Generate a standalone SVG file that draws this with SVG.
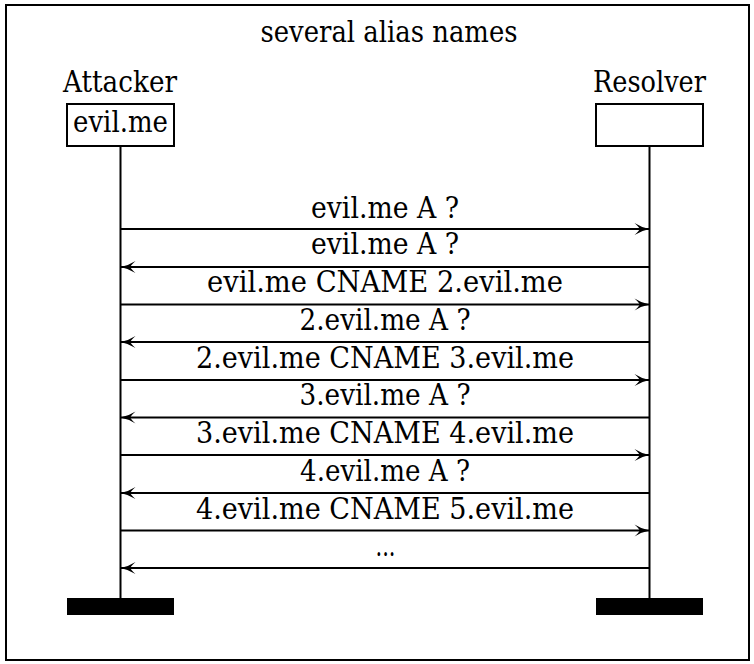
<svg xmlns="http://www.w3.org/2000/svg" width="754" height="664" viewBox="0 0 754 664">
<style>
text{font-family:"DejaVu Serif","Liberation Serif",serif;font-size:29px;fill:#000;text-anchor:middle}
.box{fill:#fff;stroke:#000;stroke-width:2}
.life{stroke:#000;stroke-width:2}
.bar{fill:#000}
.msg{stroke:#000;stroke-width:2;fill:none;marker-end:url(#ah)}
</style>
<defs>
<marker id="ah" viewBox="-16 -7 17 14" markerWidth="17" markerHeight="14" refX="0" refY="0" orient="auto" markerUnits="userSpaceOnUse">
<path d="M0,0 Q-8,-1.5 -15,-6 Q-10,-1.5 -10,0 Q-10,1.5 -15,6 Q-8,1.5 0,0 Z" fill="#000"/>
</marker>
</defs>
<rect x="6" y="5" width="743" height="655" fill="#fff" stroke="#000" stroke-width="2"/>
<text x="389" y="42" textLength="257" lengthAdjust="spacingAndGlyphs">several alias names</text>
<g id="attacker">
<text x="120" y="92" textLength="114" lengthAdjust="spacingAndGlyphs">Attacker</text>
<rect class="box" x="67" y="104" width="107" height="42"/>
<text x="120.5" y="132" textLength="95" lengthAdjust="spacingAndGlyphs">evil.me</text>
<line class="life" x1="120.5" y1="146" x2="120.5" y2="598"/>
<rect class="bar" x="67" y="598" width="107" height="17"/>
</g>
<g id="resolver">
<text x="649.5" y="92" textLength="113" lengthAdjust="spacingAndGlyphs">Resolver</text>
<rect class="box" x="596" y="104" width="107" height="42"/>
<line class="life" x1="649.5" y1="146" x2="649.5" y2="598"/>
<rect class="bar" x="596" y="598" width="107" height="17"/>
</g>
<g id="connectors">
<line class="msg" x1="120.5" y1="229" x2="649.5" y2="229"/>
<line class="msg" x1="649.5" y1="267" x2="120.5" y2="267"/>
<line class="msg" x1="120.5" y1="304.5" x2="649.5" y2="304.5"/>
<line class="msg" x1="649.5" y1="342" x2="120.5" y2="342"/>
<line class="msg" x1="120.5" y1="380" x2="649.5" y2="380"/>
<line class="msg" x1="649.5" y1="417.5" x2="120.5" y2="417.5"/>
<line class="msg" x1="120.5" y1="455" x2="649.5" y2="455"/>
<line class="msg" x1="649.5" y1="493" x2="120.5" y2="493"/>
<line class="msg" x1="120.5" y1="530.5" x2="649.5" y2="530.5"/>
<line class="msg" x1="649.5" y1="568" x2="120.5" y2="568"/>
</g>
<g id="labels">
<text x="385" y="218" textLength="148" lengthAdjust="spacingAndGlyphs">evil.me A ?</text>
<text x="385" y="254" textLength="148" lengthAdjust="spacingAndGlyphs">evil.me A ?</text>
<text x="385" y="292" textLength="356" lengthAdjust="spacingAndGlyphs">evil.me CNAME 2.evil.me</text>
<text x="385" y="329.5" textLength="171" lengthAdjust="spacingAndGlyphs">2.evil.me A ?</text>
<text x="385" y="367.5" textLength="378" lengthAdjust="spacingAndGlyphs">2.evil.me CNAME 3.evil.me</text>
<text x="385" y="405" textLength="171" lengthAdjust="spacingAndGlyphs">3.evil.me A ?</text>
<text x="385" y="443" textLength="378" lengthAdjust="spacingAndGlyphs">3.evil.me CNAME 4.evil.me</text>
<text x="385" y="480.5" textLength="170" lengthAdjust="spacingAndGlyphs">4.evil.me A ?</text>
<text x="385" y="518.5" textLength="378" lengthAdjust="spacingAndGlyphs">4.evil.me CNAME 5.evil.me</text>
<text x="385.5" y="556" textLength="20" lengthAdjust="spacingAndGlyphs">...</text>
</g>
</svg>
